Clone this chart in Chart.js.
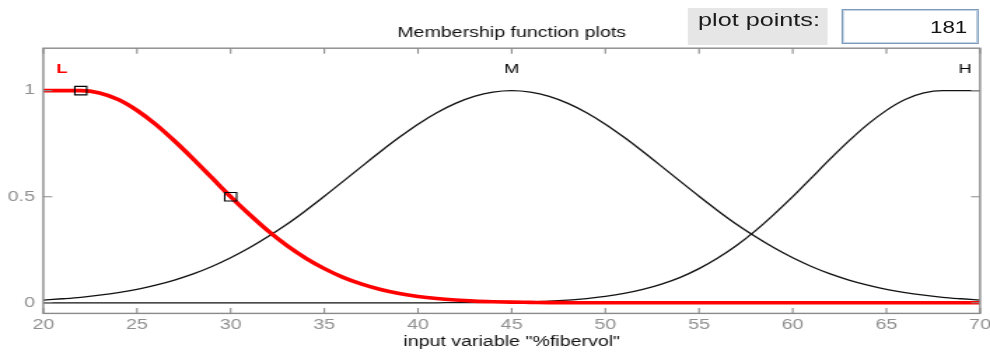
<!DOCTYPE html>
<html>
<head>
<meta charset="utf-8">
<title>Membership function plots</title>
<script src="https://cdn.jsdelivr.net/npm/chart.js@4"></script>
<style>
  html, body { margin: 0; padding: 0; background: #fff; overflow: hidden; width: 990px; height: 354px; }
  /* the whole panel is laid out at 707px wide and shown stretched across 990px */
  #stage { position: absolute; left: 0; top: 0; width: 707px; height: 354px; transform: scaleX(1.40028); transform-origin: 0 0; }
  #chart { position: absolute; left: 0; top: 0; width: 707px; height: 354px; }
  #ppLabel { position: absolute; left: 490.5px; top: 8.3px; width: 100px; height: 36.7px; background: #e6e6e6; }
  #ppLabel span { position: absolute; left: 8px; top: 2.5px; font: 18px/18px "Liberation Sans", Arial, sans-serif; color: #1a1a1a; white-space: nowrap; }
  #ppBox { position: absolute; left: 601.4px; top: 9.3px; width: 96px; height: 33px; border: 1px solid #7c9abb; box-shadow: inset 0 0 0 1px #c3d3e4; background: #fff; }
  #ppBox span { position: absolute; right: 7.6px; top: 9.5px; font: 16px/16px "Liberation Sans", Arial, sans-serif; color: #111; white-space: nowrap; }
</style>
</head>
<body>
<div id="stage">
  <canvas id="chart" width="707" height="354"></canvas>
  <div id="ppLabel"><span>plot points:</span></div>
  <div id="ppBox"><span>181</span></div>
</div>
<script>
// input variable "%fibervol", sampled every 1 unit
const xValues = [20,21,22,23,24,25,26,27,28,29,30,31,32,33,34,35,36,37,38,39,40,41,42,43,44,45,
                 46,47,48,49,50,51,52,53,54,55,56,57,58,59,60,61,62,63,64,65,66,67,68,69,70];

// membership degree of each term
const lowValues = [1,1,1,0.989,0.958,0.907,0.841,0.763,0.678,0.589,0.5,0.417,0.339,0.27,0.211,0.161,
                   0.12,0.088,0.063,0.044,0.03,0.02,0.013,0.008,0.005,0.003,0.002,0.001,0.001,
                   0,0,0,0,0,0,0,0,0,0,0,0,0,0,0,0,0,0,0,0,0,0];
const mediumValues = [0.013,0.019,0.026,0.036,0.048,0.063,0.083,0.107,0.136,0.171,0.212,0.259,0.312,
                      0.37,0.434,0.502,0.572,0.643,0.713,0.78,0.842,0.896,0.94,0.973,0.993,1,
                      0.993,0.973,0.94,0.896,0.842,0.78,0.713,0.643,0.572,0.502,0.434,0.37,0.312,
                      0.259,0.212,0.171,0.136,0.107,0.083,0.063,0.048,0.036,0.026,0.019,0.013];
const highValues = [0,0,0,0,0,0,0,0,0,0,0,0,0,0,0,0,0,0,0,0,0,0,0.001,0.001,0.002,0.003,0.005,0.008,
                    0.013,0.02,0.03,0.044,0.063,0.088,0.12,0.161,0.211,0.27,0.339,0.417,0.5,0.589,
                    0.678,0.763,0.841,0.907,0.958,0.989,1,1,1];

// term names and where they sit
const mfNames = ['L', 'M', 'H'];
const mfLabelX = [21, 45, 69.2];
const mfLabelY = 1.1;
const mfLabelColors = ['#ff0000', '#000000', '#000000'];
const mfLabelWeights = ['bold', 'normal', 'normal'];

// parameter handles of the selected term (L)
const handleX = [22, 30];
const handleY = [1, 0.5];

// axis ticks
const xTicks = [20, 25, 30, 35, 40, 45, 50, 55, 60, 65, 70];
const yTicks = [0, 0.5, 1];

const toPoints = (xs, ys) => xs.map((x, i) => ({ x: x, y: ys[i] }));

const framePlugin = {
  id: 'mfFrame',
  afterDatasetsDraw(chart) {
    const { ctx, chartArea: a, scales: { x, y } } = chart;
    ctx.save();
    ctx.strokeStyle = '#8a8a8a';
    ctx.lineWidth = 1.4;
    ctx.strokeRect(a.left, a.top, a.right - a.left, a.bottom - a.top);
    ctx.lineWidth = 1.1;
    ctx.beginPath();
    xTicks.forEach(v => {
      const px = x.getPixelForValue(v);
      ctx.moveTo(px, a.bottom); ctx.lineTo(px, a.bottom - 5.5);
      ctx.moveTo(px, a.top); ctx.lineTo(px, a.top + 5.5);
    });
    yTicks.forEach(v => {
      const py = y.getPixelForValue(v);
      ctx.moveTo(a.left, py); ctx.lineTo(a.left + 6.4, py);
      ctx.moveTo(a.right, py); ctx.lineTo(a.right - 6.4, py);
    });
    ctx.stroke();
    ctx.textAlign = 'center';
    ctx.textBaseline = 'middle';
    mfNames.forEach((name, i) => {
      ctx.font = mfLabelWeights[i] + ' 13px "Liberation Sans", Arial, sans-serif';
      ctx.fillStyle = mfLabelColors[i];
      ctx.fillText(name, x.getPixelForValue(mfLabelX[i]), y.getPixelForValue(mfLabelY));
    });
    ctx.restore();
  }
};

const fixBox = (w, h) => scale => {
  if (w !== null) scale.width = w;
  if (h !== null) scale.height = h;
  scale.paddingLeft = 0; scale.paddingRight = 0;
  scale.paddingTop = 0; scale.paddingBottom = 0;
};

new Chart(document.getElementById('chart'), {
  type: 'line',
  data: {
    datasets: [
      {
        label: 'handles',
        data: toPoints(handleX, handleY),
        showLine: false,
        pointStyle: 'rect',
        pointRadius: 6,
        pointHoverRadius: 6,
        pointBorderColor: '#000',
        pointBackgroundColor: 'rgba(0,0,0,0)',
        pointBorderWidth: 1.1
      },
      {
        label: 'L',
        data: toPoints(xValues, lowValues),
        borderColor: '#ff0000',
        borderWidth: 3.6,
        pointRadius: 0,
        cubicInterpolationMode: 'monotone'
      },
      {
        label: 'M',
        data: toPoints(xValues, mediumValues),
        borderColor: '#111',
        borderWidth: 1.3,
        pointRadius: 0,
        cubicInterpolationMode: 'monotone'
      },
      {
        label: 'H',
        data: toPoints(xValues, highValues),
        borderColor: '#111',
        borderWidth: 1.3,
        pointRadius: 0,
        cubicInterpolationMode: 'monotone'
      }
    ]
  },
  options: {
    responsive: false,
    animation: false,
    events: [],
    layout: { padding: { left: 0, right: 6.4, top: 0, bottom: 0 } },
    plugins: {
      legend: { display: false },
      tooltip: { enabled: false },
      title: {
        display: true,
        fullSize: false,
        text: 'Membership function plots',
        color: '#111',
        font: { family: '"Liberation Sans", Arial, sans-serif', size: 14, weight: 'normal', lineHeight: 1.2 },
        padding: { top: 24.6, bottom: 6.8 }
      }
    },
    scales: {
      x: {
        type: 'linear',
        min: 20,
        max: 70,
        afterBuildTicks: s => { s.ticks = xTicks.map(v => ({ value: v })); },
        afterFit: fixBox(null, 40.6),
        grid: { display: false, drawTicks: false },
        border: { display: false },
        ticks: {
          padding: 3.5,
          maxRotation: 0,
          autoSkip: false,
          color: '#8f8f8f',
          font: { family: '"Liberation Sans", Arial, sans-serif', size: 14 }
        },
        title: {
          display: true,
          text: 'input variable "%fibervol"',
          color: '#111',
          font: { family: '"Liberation Sans", Arial, sans-serif', size: 14, lineHeight: 1.2 },
          padding: { top: 0, bottom: 3.6 }
        }
      },
      y: {
        type: 'linear',
        min: -0.05,
        max: 1.2,
        afterBuildTicks: s => { s.ticks = yTicks.map(v => ({ value: v })); },
        afterFit: fixBox(30.92, null),
        grid: { display: false, drawTicks: false },
        border: { display: false },
        ticks: {
          padding: 6,
          color: '#8f8f8f',
          font: { family: '"Liberation Sans", Arial, sans-serif', size: 14 },
          callback: v => String(v)
        }
      }
    }
  },
  plugins: [framePlugin]
});
</script>
</body>
</html>
